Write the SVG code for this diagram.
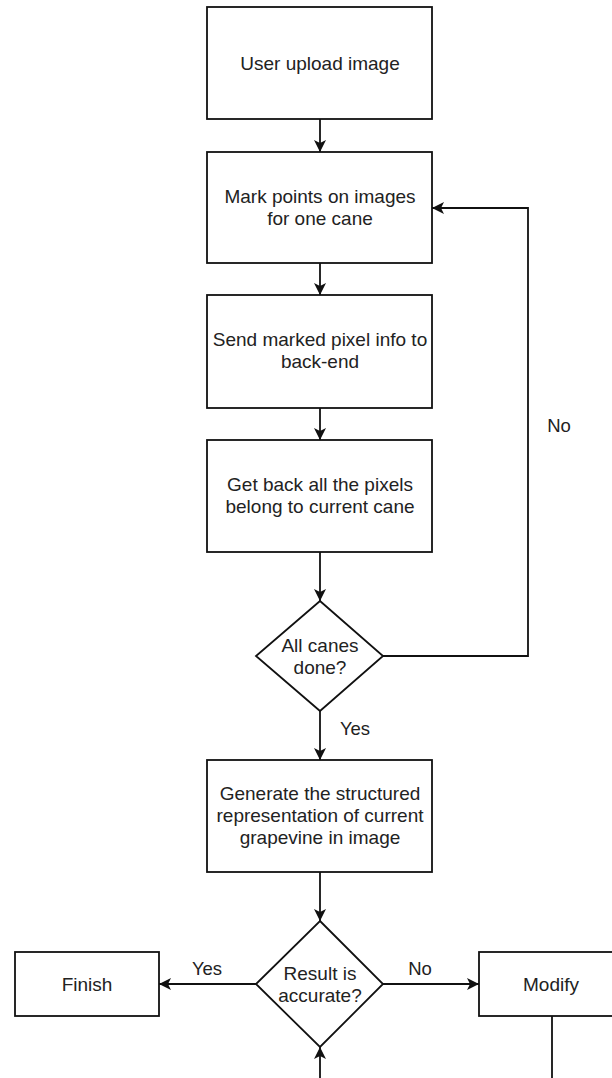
<svg xmlns="http://www.w3.org/2000/svg" width="612" height="1078" viewBox="0 0 612 1078">
<defs>
<marker id="arr" markerUnits="userSpaceOnUse" markerWidth="14" markerHeight="13" refX="12" refY="6" orient="auto">
<path d="M0,0 L12,6 L0,12 L3,6 Z" fill="#111"/>
</marker>
<style>
.box{fill:#fff;stroke:#111;stroke-width:1.8}
.t{font-family:"Liberation Sans",Arial,sans-serif;font-size:19px;fill:#222;text-anchor:middle}
.lbl{font-family:"Liberation Sans",Arial,sans-serif;font-size:18.5px;fill:#222;text-anchor:middle}
.c{fill:none;stroke:#111;stroke-width:1.8;marker-end:url(#arr)}
</style>
</defs>
<rect width="612" height="1078" fill="#fff"/>
<g id="connectors">
<path class="c" d="M320,119 L320,152"/>
<path class="c" d="M320,263 L320,295"/>
<path class="c" d="M320,408 L320,440"/>
<path class="c" d="M320,552 L320,601"/>
<path class="c" d="M383,656 L528,656 L528,208 L432,208"/>
<text class="lbl" x="559" y="432">No</text>
<path class="c" d="M320,711 L320,760"/>
<text class="lbl" x="355" y="735">Yes</text>
<path class="c" d="M320,872 L320,921"/>
<path class="c" d="M256,984 L159,984"/>
<text class="lbl" x="207" y="975">Yes</text>
<path class="c" d="M383,984 L479,984"/>
<text class="lbl" x="420" y="975">No</text>
<path class="c" d="M552,1016 L552,1090 L320,1090 L320,1047"/>
</g>
<g id="n1">
<rect class="box" x="207" y="7" width="225" height="112"/>
<text class="t" x="320" y="70">User upload image</text>
</g>
<g id="n2">
<rect class="box" x="207" y="152" width="225" height="111"/>
<text class="t" x="320" y="203">Mark points on images</text>
<text class="t" x="320" y="225">for one cane</text>
</g>
<g id="n3">
<rect class="box" x="207" y="295" width="225" height="113"/>
<text class="t" x="320" y="346">Send marked pixel info to</text>
<text class="t" x="320" y="368">back-end</text>
</g>
<g id="n4">
<rect class="box" x="207" y="440" width="225" height="112"/>
<text class="t" x="320" y="491">Get back all the pixels</text>
<text class="t" x="320" y="513">belong to current cane</text>
</g>
<g id="d1">
<polygon class="box" points="320,601 383,656 320,711 256,656"/>
<text class="t" x="320" y="652">All canes</text>
<text class="t" x="320" y="674">done?</text>
</g>
<g id="n5">
<rect class="box" x="207" y="760" width="225" height="112"/>
<text class="t" x="320" y="800">Generate the structured</text>
<text class="t" x="320" y="822">representation of current</text>
<text class="t" x="320" y="844">grapevine in image</text>
</g>
<g id="d2">
<polygon class="box" points="320,921 383,984 320,1047 256,984"/>
<text class="t" x="320" y="980">Result is</text>
<text class="t" x="320" y="1002">accurate?</text>
</g>
<g id="finish">
<rect class="box" x="15" y="952" width="144" height="64"/>
<text class="t" x="87" y="991">Finish</text>
</g>
<g id="modify">
<rect class="box" x="479" y="952" width="145" height="64"/>
<text class="t" x="551" y="991">Modify</text>
</g>
</svg>
